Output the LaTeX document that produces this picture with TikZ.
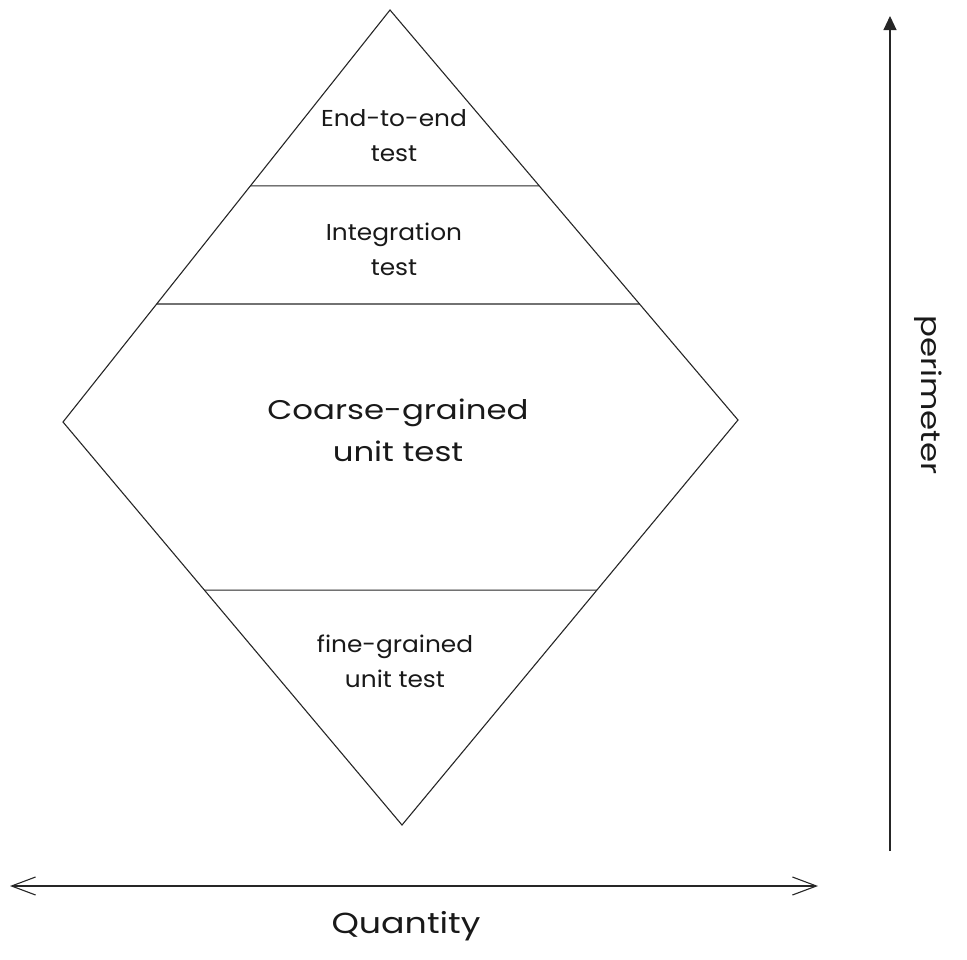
\documentclass[tikz,border=0pt]{standalone}
\usepackage{fontspec}
\setmainfont{Poppins}
\newfontfamily\widesmall[FakeStretch=1.08]{Poppins}
\newfontfamily\widebig[FakeStretch=1.2]{Poppins}
\usetikzlibrary{calc,arrows.meta}
\begin{document}
\begin{tikzpicture}[x=1pt,y=-1pt,
  edge/.style={draw=black!85,line width=1.1pt},
  small/.style={font=\widesmall\fontsize{23}{35}\selectfont,align=center,text=black!90},
  big/.style={font=\widebig\fontsize{27}{42}\selectfont,align=center,text=black!90}]
\useasboundingbox (0,0) rectangle (967,959);
\coordinate (top) at (390,10);
\coordinate (lft) at (63,422);
\coordinate (bot) at (402,825);
\coordinate (rgt) at (738,420);
\draw[edge,line join=miter] (top) -- (lft) -- (bot) -- (rgt) -- cycle;
\coordinate (a1) at ($(top)!0.427!(lft)$);
\coordinate (a2) at ($(top)!0.429!(rgt)$);
\coordinate (b1) at ($(top)!0.7136!(lft)$);
\coordinate (b2) at ($(top)!0.717!(rgt)$);
\coordinate (c1) at ($(lft)!0.417!(bot)$);
\coordinate (c2) at ($(rgt)!0.42!(bot)$);
\draw[edge] (a1) -- (a2);
\draw[edge] (b1) -- (b2);
\draw[edge] (c1) -- (c2);
\node[small] (e2e) at (394,136) {End-to-end\\test};
\node[small] (integ) at (394,249) {Integration\\test};
\node[big] (coarse) at (398,430) {Coarse-grained\\unit test};
\node[small] (fine) at (395,661) {fine-grained\\unit test};
\coordinate (vs) at (890,851);
\coordinate (ve) at (890,16);
\draw[edge,-{Triangle[length=14pt,width=13pt]}] (vs) -- (ve);
\coordinate (hs) at (10,886);
\coordinate (he) at (818,886);
\draw[edge,{Straight Barb[length=24pt,width=18pt]}-{Straight Barb[length=24pt,width=18pt]}] (hs) -- (he);
\node[big,font=\widebig\fontsize{29}{42}\selectfont] (qty) at (406,926) {Quantity};
\node[big,rotate=-90] (per) at (928,395) {perimeter};
\end{tikzpicture}
\end{document}
